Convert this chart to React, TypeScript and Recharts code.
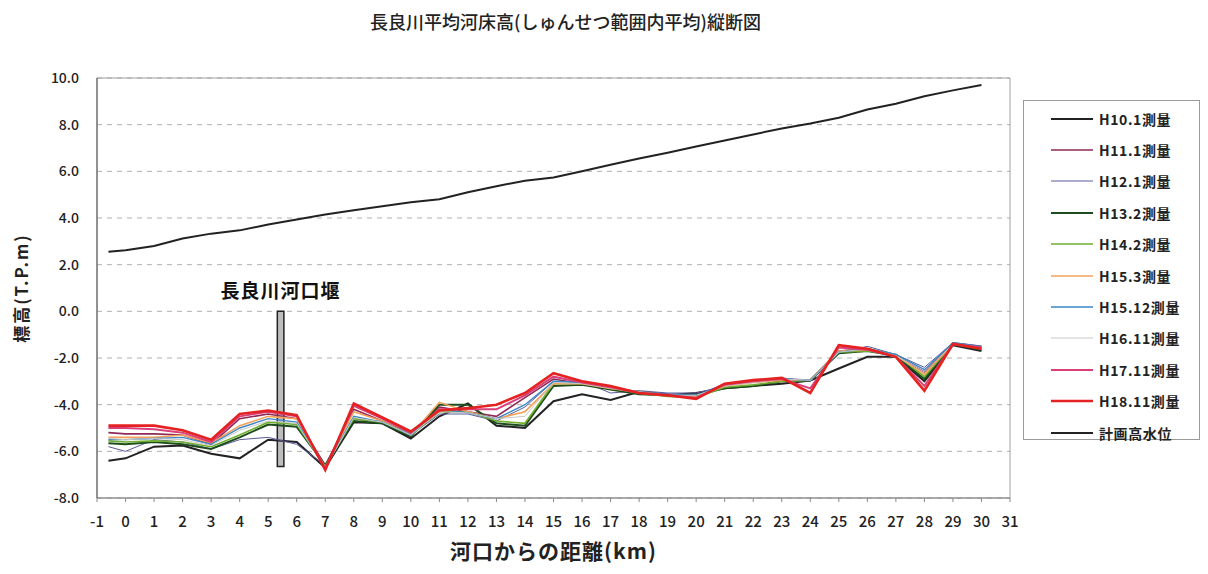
import React from 'react';
import { LineChart, Line, XAxis, YAxis, CartesianGrid, Legend, ReferenceArea, Label } from 'recharts';

// distance from river mouth (km)
const km = [-0.6, 0, 1, 2, 3, 4, 5, 6, 7, 8, 9, 10, 11, 12, 13, 14, 15, 16, 17, 18, 19, 20, 21, 22, 23, 24, 25, 26, 27, 28, 29, 30];

// average riverbed elevation per survey (T.P.m)
const h10_1 = [-6.4, -6.3, -5.8, -5.75, -6.1, -6.3, -5.5, -5.6, -6.7, -4.75, -4.8, -5.45, -4.5, -3.95, -4.9, -5.0, -3.85, -3.55, -3.8, -3.45, -3.6, -3.5, -3.3, -3.2, -3.1, -2.96, -2.45, -1.95, -1.95, -3.0, -1.45, -1.7];
const h11_1 = [-5.2, -5.25, -5.25, -5.3, -5.7, -4.6, -4.4, -4.6, -6.6, -4.2, -4.7, -5.25, -4.1, -4.3, -4.5, -3.7, -2.9, -3.1, -3.3, -3.45, -3.55, -3.65, -3.1, -3.0, -2.9, -2.95, -1.7, -1.6, -1.9, -2.6, -1.35, -1.5];
const h12_1 = [-5.8, -6.0, -5.5, -5.6, -5.9, -5.5, -5.4, -5.7, -6.6, -4.6, -4.8, -5.3, -4.4, -4.4, -4.7, -4.1, -3.0, -3.0, -3.5, -3.4, -3.5, -3.5, -3.2, -3.0, -2.85, -3.0, -1.8, -1.5, -1.85, -2.4, -1.35, -1.55];
const h13_2 = [-5.65, -5.7, -5.6, -5.7, -5.9, -5.4, -4.85, -4.95, -6.6, -4.7, -4.8, -5.35, -4.0, -4.0, -4.8, -4.9, -3.2, -3.15, -3.35, -3.55, -3.6, -3.6, -3.3, -3.2, -3.0, -2.95, -1.8, -1.7, -1.9, -2.9, -1.4, -1.65];
const h14_2 = [-5.55, -5.6, -5.55, -5.6, -5.8, -5.3, -4.75, -4.85, -6.65, -4.6, -4.75, -5.3, -4.3, -4.3, -4.7, -4.8, -3.1, -3.1, -3.3, -3.5, -3.65, -3.7, -3.25, -3.15, -3.0, -2.95, -1.75, -1.7, -1.85, -2.8, -1.4, -1.6];
const h15_3 = [-5.4, -5.4, -5.4, -5.3, -5.65, -4.9, -4.5, -4.6, -6.7, -4.3, -4.7, -5.3, -3.9, -4.3, -4.6, -4.3, -3.1, -3.1, -3.3, -3.45, -3.6, -3.65, -3.2, -3.05, -2.95, -2.95, -1.7, -1.65, -1.9, -2.7, -1.4, -1.6];
const h15_12 = [-5.5, -5.5, -5.45, -5.4, -5.7, -5.0, -4.6, -4.75, -6.7, -4.5, -4.75, -5.3, -4.2, -4.35, -4.6, -4.0, -3.0, -3.05, -3.25, -3.45, -3.55, -3.6, -3.15, -3.0, -2.9, -2.95, -1.75, -1.6, -1.85, -2.5, -1.35, -1.5];
const h16_11 = [-5.45, -5.5, -5.45, -5.5, -5.75, -5.1, -4.7, -4.8, -6.7, -4.55, -4.75, -5.3, -4.3, -4.35, -4.6, -4.5, -3.05, -3.1, -3.3, -3.45, -3.6, -3.6, -3.2, -3.05, -2.9, -2.95, -1.75, -1.6, -1.9, -2.6, -1.4, -1.55];
const h17_11 = [-5.0, -5.0, -5.05, -5.2, -5.6, -4.5, -4.3, -4.5, -6.75, -4.05, -4.6, -5.2, -4.2, -4.2, -4.2, -3.6, -2.8, -3.05, -3.25, -3.5, -3.6, -3.7, -3.15, -3.0, -2.9, -3.3, -1.55, -1.65, -1.95, -3.2, -1.4, -1.55];
const h18_11 = [-4.9, -4.9, -4.9, -5.1, -5.5, -4.4, -4.25, -4.45, -6.8, -3.95, -4.55, -5.15, -4.25, -4.15, -4.0, -3.5, -2.65, -3.0, -3.2, -3.5, -3.6, -3.75, -3.1, -2.95, -2.85, -3.5, -1.45, -1.6, -1.95, -3.4, -1.4, -1.6];
// planned high water level
const planned = [2.55, 2.62, 2.8, 3.12, 3.33, 3.47, 3.72, 3.94, 4.15, 4.33, 4.5, 4.67, 4.8, 5.1, 5.36, 5.6, 5.74, 6.0, 6.28, 6.55, 6.8, 7.06, 7.32, 7.58, 7.84, 8.05, 8.3, 8.65, 8.9, 9.22, 9.47, 9.7];

const xTicks = [-1, 0, 1, 2, 3, 4, 5, 6, 7, 8, 9, 10, 11, 12, 13, 14, 15, 16, 17, 18, 19, 20, 21, 22, 23, 24, 25, 26, 27, 28, 29, 30, 31];
const yTicks = [-8, -6, -4, -2, 0, 2, 4, 6, 8, 10];

// Nagara River Estuary Barrage position
const weirKm = [5.32, 5.55];
const weirLevel = [-6.65, 0];

const data = km.map((k, i) => ({
  km: k,
  h10_1: h10_1[i],
  h11_1: h11_1[i],
  h12_1: h12_1[i],
  h13_2: h13_2[i],
  h14_2: h14_2[i],
  h15_3: h15_3[i],
  h15_12: h15_12[i],
  h16_11: h16_11[i],
  h17_11: h17_11[i],
  h18_11: h18_11[i],
  planned: planned[i],
}));

const series = [
  { key: 'h10_1', name: 'H10.1測量', color: '#222222', width: 2 },
  { key: 'h11_1', name: 'H11.1測量', color: '#8e2a55', width: 1.6 },
  { key: 'h12_1', name: 'H12.1測量', color: '#5a5a9a', width: 1 },
  { key: 'h13_2', name: 'H13.2測量', color: '#1d4d1d', width: 2 },
  { key: 'h14_2', name: 'H14.2測量', color: '#6fae2e', width: 1.6 },
  { key: 'h15_3', name: 'H15.3測量', color: '#f2a25a', width: 1.6 },
  { key: 'h15_12', name: 'H15.12測量', color: '#3b86c6', width: 1.4 },
  { key: 'h16_11', name: 'H16.11測量', color: '#c8c8c8', width: 1 },
  { key: 'h17_11', name: 'H17.11測量', color: '#d9407a', width: 2 },
  { key: 'h18_11', name: 'H18.11測量', color: '#e52222', width: 2.6 },
  { key: 'planned', name: '計画高水位', color: '#222222', width: 2 },
];

const font = '"Noto Sans CJK JP", "Noto Sans", sans-serif';

const renderLegend = () => (
  <div
    style={{
      border: '1px solid #9a9a9a',
      background: '#fff',
      width: 177,
      height: 340,
      boxSizing: 'border-box',
      paddingTop: 2,
      fontFamily: font,
    }}
  >
    {series.map((s) => (
      <div key={s.key} style={{ display: 'flex', alignItems: 'center', height: 31.4 }}>
        <svg width={70} height={10}>
          <line x1={27} x2={69} y1={5} y2={5} stroke={s.color} strokeWidth={s.width} />
        </svg>
        <span style={{ fontSize: 14, marginLeft: 5, color: '#222', fontWeight: 700, letterSpacing: 0.6 }}>{s.name}</span>
      </div>
    ))}
  </div>
);

export default function App() {
  return (
    <div style={{ position: 'relative', width: 1200, height: 566, fontFamily: font, background: '#fff' }}>
      <div
        style={{
          position: 'absolute',
          left: 0,
          width: 1115,
          top: 0,
          textAlign: 'center',
          fontSize: 18,
          fontWeight: 500,
          color: '#222',
        }}
      >
        長良川平均河床高(しゅんせつ範囲内平均)縦断図
      </div>
      <LineChart
        width={1200}
        height={566}
        data={data}
        margin={{ top: 70, right: 198, bottom: 46, left: 29 }}
        style={{ fontFamily: font }}
      >
        <CartesianGrid vertical={false} stroke="#b0b0b0" strokeDasharray="5 5" />
        <ReferenceArea x1={-1} x2={31} y1={-8} y2={10} fill="none" stroke="#a0a0a0" />
        <XAxis
          dataKey="km"
          type="number"
          domain={[-1, 31]}
          ticks={xTicks}
          interval={0}
          tickSize={4}
          tickMargin={14}
          stroke="#888"
          tick={{ fontSize: 15, fill: '#222', fontWeight: 500 }}
        >
          <Label value="河口からの距離(km)" position="bottom" offset={16} style={{ fontSize: 21, fill: '#222', fontWeight: 700, letterSpacing: 1 }} />
        </XAxis>
        <YAxis
          type="number"
          domain={[-8, 10]}
          ticks={yTicks}
          width={60}
          tickLine={false}
          tickMargin={12}
          stroke="#555"
          tickFormatter={(v: number) => v.toFixed(1)}
          tick={{ fontSize: 14, fill: '#222', fontWeight: 500 }}
        >
          <Label value="標高(T.P.m)" angle={-90} position="left" offset={15} style={{ fontSize: 17, fill: '#222', fontWeight: 700, letterSpacing: 2, textAnchor: 'middle' }} />
        </YAxis>
        {series.map((s) => (
          <Line
            key={s.key}
            type="linear"
            dataKey={s.key}
            name={s.name}
            stroke={s.color}
            strokeWidth={s.width}
            dot={false}
            isAnimationActive={false}
          />
        ))}
        <ReferenceArea x1={weirKm[0]} x2={weirKm[1]} y1={weirLevel[0]} y2={weirLevel[1]} fill="#bdbdbd" fillOpacity={1} stroke="#222" strokeWidth={1.5}>
          <Label value="長良川河口堰" position="top" offset={13} style={{ fontSize: 19, fill: '#111', fontWeight: 700, letterSpacing: 1 }} />
        </ReferenceArea>
        <Legend
          layout="vertical"
          align="center"
          verticalAlign="middle"
          content={renderLegend}
          wrapperStyle={{ left: 1015, top: 92, width: 177, height: 340 }}
        />
      </LineChart>
    </div>
  );
}
